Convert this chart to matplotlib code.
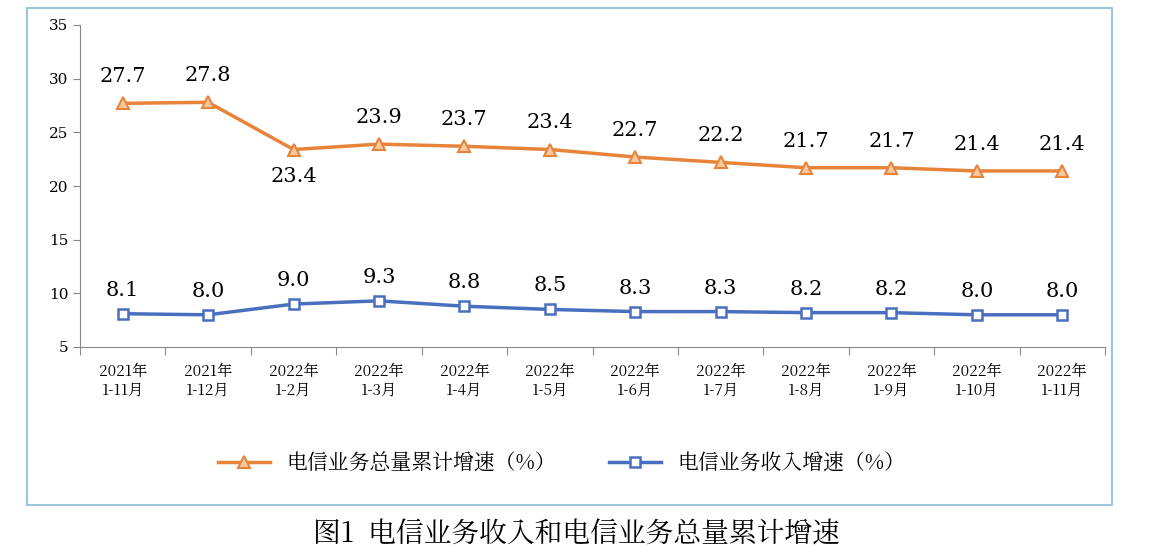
import matplotlib.pyplot as plt
from matplotlib import font_manager
from matplotlib.patches import Rectangle

# pick whatever CJK family matplotlib actually registered
cjk = [f.name for f in font_manager.fontManager.ttflist if "CJK" in f.name]
cjk_name = "Noto Sans CJK SC" if "Noto Sans CJK SC" in cjk else (cjk[0] if cjk else "DejaVu Sans")
plt.rcParams["font.family"] = "sans-serif"
plt.rcParams["font.sans-serif"] = [cjk_name, "DejaVu Sans"]

categories = ["2021年\n1-11月", "2021年\n1-12月", "2022年\n1-2月", "2022年\n1-3月", "2022年\n1-4月",
              "2022年\n1-5月", "2022年\n1-6月", "2022年\n1-7月", "2022年\n1-8月", "2022年\n1-9月",
              "2022年\n1-10月", "2022年\n1-11月"]
total_growth = [27.7, 27.8, 23.4, 23.9, 23.7, 23.4, 22.7, 22.2, 21.7, 21.7, 21.4, 21.4]
income_growth = [8.1, 8.0, 9.0, 9.3, 8.8, 8.5, 8.3, 8.3, 8.2, 8.2, 8.0, 8.0]
yticks = [5, 10, 15, 20, 25, 30, 35]

orange = "#E8833A"
blue = "#4A6FBF"

fig = plt.figure(figsize=(11.53, 5.56), dpi=100)
fig.patches.append(Rectangle((27 / 1153, 1 - 505 / 556), 1085 / 1153, 497 / 556,
                             transform=fig.transFigure, fill=False, edgecolor="#9CC8DC", lw=1.5))
ax = fig.add_axes([80 / 1153, 1 - 347 / 556, 1025 / 1153, 322 / 556])
x = range(len(categories))
ax.plot(x, total_growth, color=orange, lw=2.5, marker="^", ms=9, mfc="#F6C9A0", mec=orange, mew=1.5,
        label="电信业务总量累计增速（%）")
ax.plot(x, income_growth, color=blue, lw=2.5, marker="s", ms=7, mfc="white", mec=blue, mew=1.8,
        label="电信业务收入增速（%）")
for i, v in enumerate(total_growth):
    if i == 2:
        ax.text(i, v - 1.6, f"{v:.1f}", ha="center", va="top", fontsize=15, family="serif")
    else:
        ax.text(i, v + 1.6, f"{v:.1f}", ha="center", va="bottom", fontsize=15, family="serif")
for i, v in enumerate(income_growth):
    ax.text(i, v + 1.3, f"{v:.1f}", ha="center", va="bottom", fontsize=15, family="serif")

ax.set_xlim(-0.5, len(categories) - 0.5)
ax.set_ylim(5, 35)
ax.set_yticks(yticks)
ax.set_yticklabels([str(t) for t in yticks], family="serif", fontsize=11)
ax.set_xticks([i + 0.5 for i in range(-1, len(categories))], minor=False)
ax.set_xticklabels([])
ax.set_xticks(list(x), minor=True)
ax.set_xticklabels(categories, minor=True, fontsize=11, linespacing=1.2)
ax.tick_params(axis="x", which="minor", length=0, pad=12)
ax.tick_params(axis="x", which="major", length=6, direction="out", color="#888888")
ax.tick_params(axis="y", length=5, color="#888888")
for s in ["top", "right"]:
    ax.spines[s].set_visible(False)
for s in ["left", "bottom"]:
    ax.spines[s].set_color("#888888")
ax.legend(loc="upper center", bbox_to_anchor=(0.47, -0.27), ncol=2, frameon=False, fontsize=15,
          columnspacing=2.5, handlelength=2.5)
fig.text(0.5, 1 - 535 / 556, "图1  电信业务收入和电信业务总量累计增速", ha="center", va="center", fontsize=20)
fig.savefig("out.png", dpi=100)
